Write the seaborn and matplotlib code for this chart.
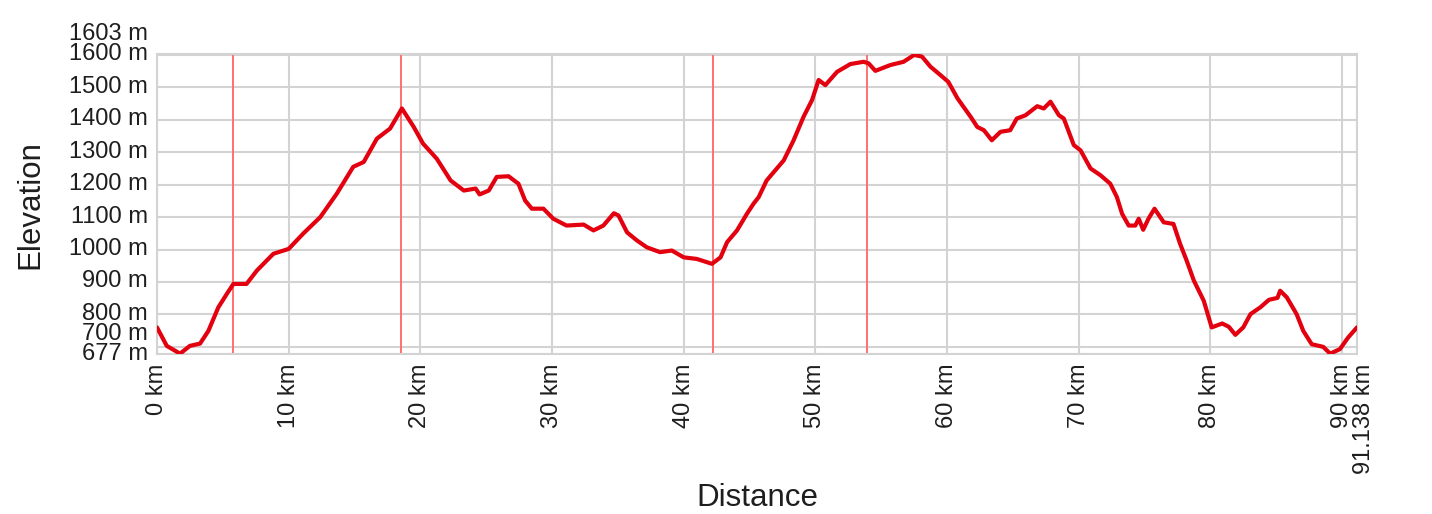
import numpy as np
import pandas as pd
import matplotlib
matplotlib.use("Agg")
import matplotlib.pyplot as plt
from matplotlib.transforms import ScaledTranslation
import seaborn as sns

# elevation profile (km, m)
distance_km = [0.0, 0.74, 1.75, 2.5, 3.27, 3.9, 4.66, 5.3, 5.8, 6.8, 7.58, 8.84, 10.0,
               11.1, 12.4, 13.65, 14.9, 15.7, 16.7, 17.7, 18.6, 19.5, 20.2, 21.25, 22.3,
               23.3, 24.2, 24.5, 25.2, 25.8, 26.7, 27.45, 27.96, 28.47, 29.35, 30.1,
               31.1, 32.4, 33.15, 33.9, 34.7, 35.05, 35.7, 36.45, 37.2, 38.2, 39.1, 40.0,
               41.0, 42.15, 42.8, 43.3, 44.05, 44.8, 45.3, 45.7, 46.3, 47.6, 48.35, 49.1,
               49.75, 50.25, 50.76, 51.65, 52.66, 53.67, 54.05, 54.56, 55.7, 56.7, 57.5,
               58.1, 58.74, 59.5, 60.1, 60.8, 61.8, 62.3, 62.8, 63.4, 64.06, 64.8, 65.3,
               65.96, 66.85, 67.35, 67.86, 68.5, 68.87, 69.63, 70.14, 70.9, 71.66, 72.4,
               72.9, 73.3, 73.8, 74.3, 74.56, 74.9, 75.3, 75.76, 76.46, 77.2, 77.7, 78.2,
               78.75, 79.5, 80.1, 80.9, 81.4, 81.9, 82.5, 83.05, 83.8, 84.45, 85.1, 85.3,
               85.8, 86.55, 87.06, 87.7, 88.57, 89.1, 89.84, 90.47, 91.138]
elevation_m = [760, 703, 679, 703, 710, 749, 822, 863, 894, 894, 935, 987, 1002,
               1049, 1100, 1172, 1255, 1270, 1342, 1373, 1435, 1378, 1327, 1280, 1213,
               1182, 1188, 1170, 1182, 1224, 1226, 1203, 1151, 1126, 1126, 1095,
               1074, 1077, 1059, 1074, 1112, 1105, 1053, 1028, 1007, 992, 997, 976,
               971, 956, 976, 1023, 1059, 1110, 1141, 1162, 1213, 1275, 1337, 1409,
               1461, 1523, 1507, 1548, 1572, 1579, 1574, 1551, 1569, 1579, 1600,
               1595, 1564, 1538, 1517, 1466, 1409, 1378, 1368, 1337, 1363, 1368, 1404,
               1414, 1442, 1435, 1456, 1414, 1404, 1322, 1306, 1250, 1229, 1203,
               1162, 1110, 1074, 1074, 1095, 1061, 1095, 1126, 1084, 1079, 1018, 966,
               904, 842, 760, 772, 762, 737, 760, 801, 822, 845, 851, 873,
               853, 801, 749, 708, 700, 679, 693, 729, 760]

# waypoints marked with red vertical lines
waypoints_km = [5.75, 18.56, 42.2, 53.93]

x_ticks = [0, 10, 20, 30, 40, 50, 60, 70, 80, 90, 91.138]
x_labels = ["0 km", "10 km", "20 km", "30 km", "40 km", "50 km", "60 km",
            "70 km", "80 km", "90 km", "91.138 km"]
y_ticks = [677, 700, 800, 900, 1000, 1100, 1200, 1300, 1400, 1500, 1600, 1603]
y_labels = [f"{v} m" for v in y_ticks]

df = pd.DataFrame({"distance": distance_km, "elevation": elevation_m})

sns.set_theme(style="whitegrid")
plt.rcParams["font.family"] = ["Liberation Sans", "DejaVu Sans"]

grid_col = "#d3d3d3"
text_col = "#1e1e1e"

fig = plt.figure(figsize=(14.32, 5.14), dpi=100)
ax = fig.add_axes([157 / 1432, 1 - 354.3 / 514, 1200 / 1432, (354.3 - 54) / 514])

for w in waypoints_km:
    ax.axvline(w, color="#ff7070", linewidth=1.4, zorder=2)

sns.lineplot(data=df, x="distance", y="elevation", color="#e3000f",
             linewidth=3.0, ax=ax, zorder=3)

ax.set_xlim(0, 91.138)
ax.set_ylim(677, 1603)
ax.set_xticks(x_ticks)
ax.set_xticklabels(x_labels, rotation=90, fontsize=17, color=text_col)
ax.set_yticks(y_ticks)
ax.set_yticklabels(y_labels, fontsize=17, color=text_col)
ax.tick_params(axis="both", length=0, pad=6.5)
ax.grid(True, color=grid_col, linewidth=1.5)
for s in ax.spines.values():
    s.set_color(grid_col)
    s.set_linewidth(1.5)

# shift crowded labels like the reference does
shifts = {"700 m": 11, "1603 m": 16}
for lab in ax.get_yticklabels():
    dy = shifts.get(lab.get_text(), 2.2) / 72
    lab.set_transform(lab.get_transform() + ScaledTranslation(0, dy, fig.dpi_scale_trans))
for lab in ax.get_xticklabels():
    if lab.get_text() == "91.138 km":
        lab.set_transform(lab.get_transform() + ScaledTranslation(5 / 72, 0, fig.dpi_scale_trans))

ax.set_xlabel("Distance", fontsize=22.5, color=text_col, va="center")
ax.set_ylabel("Elevation", fontsize=22.5, color=text_col, va="center")
ax.xaxis.set_label_coords(0.5, -(498 - 354.3) / 300.3)
ax.yaxis.set_label_coords(-(157 - 30) / 1200, 0.5)

fig.savefig("out.png", dpi=100)
